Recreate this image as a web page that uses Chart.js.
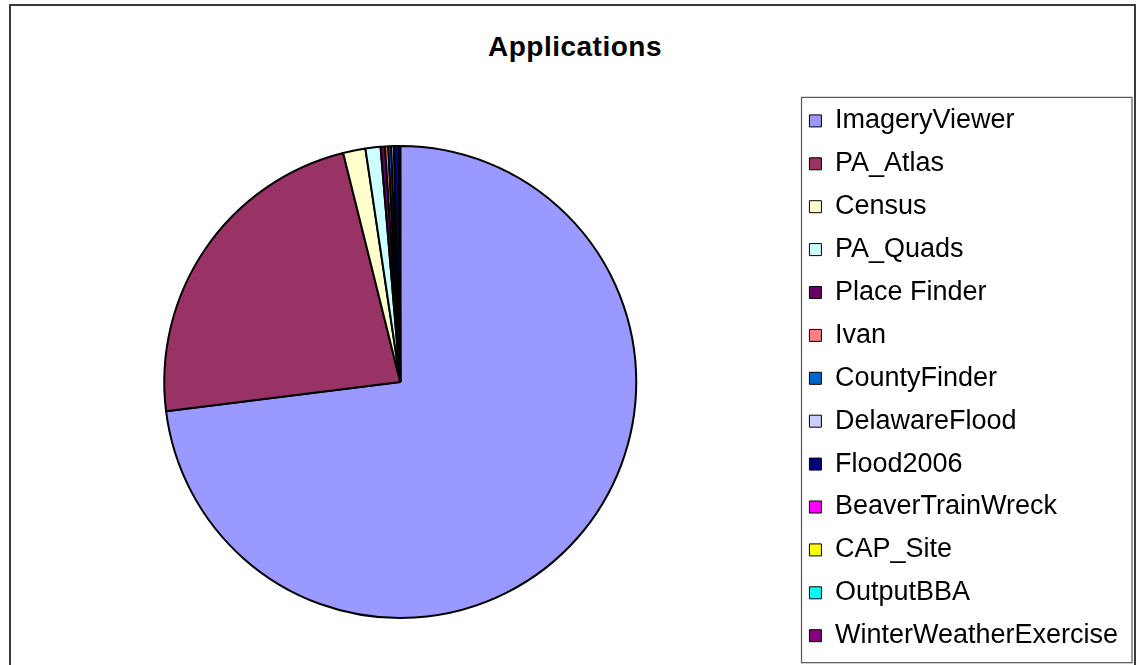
<!DOCTYPE html>
<html>
<head>
<meta charset="utf-8">
<script src="https://cdn.jsdelivr.net/npm/chart.js@4"></script>
<style>
  html, body { margin: 0; padding: 0; background: #fff; overflow: hidden; width: 1144px; height: 665px; }
  #frame { position: absolute; left: 9px; top: 4px; width: 1127px; height: 720px; border: 2px solid #3a3a3a; box-sizing: border-box; }
  #title { position: absolute; left: 0; top: 33px; width: 1150px; text-align: center;
           font: bold 28px "Liberation Sans", Arial, sans-serif; line-height: 28px; letter-spacing: 0.5px; color: #000; }
  #appChart { position: absolute; left: 0; top: 0; }
</style>
</head>
<body>
<div id="frame"></div>
<div id="title">Applications</div>
<canvas id="appChart" width="1144" height="720"></canvas>
<script>
// share of hits per application (percent)
const apps = ['ImageryViewer', 'PA_Atlas', 'Census', 'PA_Quads', 'Place Finder', 'Ivan',
    'CountyFinder', 'DelawareFlood', 'Flood2006', 'BeaverTrainWreck', 'CAP_Site',
    'OutputBBA', 'WinterWeatherExercise'];
const shares = [73.03, 23.08, 1.53, 1.03, 0.30, 0.22, 0.20, 0.18, 0.35, 0.03, 0.02, 0.02, 0.01];
const colors = ['#9999FF', '#993366', '#FFFFCC', '#CCFFFF', '#660066', '#FF8080',
    '#0066CC', '#CCCCFF', '#000080', '#FF00FF', '#FFFF00', '#00FFFF', '#800080'];

// draws the box round the legend, like the Excel one
const legendFrame = {
    id: 'legendFrame',
    afterDraw(chart) {
        const lg = chart.legend;
        if (!lg || !lg.legendHitBoxes.length) return;
        const first = lg.legendHitBoxes[0];
        const last = lg.legendHitBoxes[lg.legendHitBoxes.length - 1];
        const ctx = chart.ctx;
        ctx.save();
        ctx.strokeStyle = '#555';
        ctx.lineWidth = 1.2;
        ctx.strokeRect(lg.left + 8, first.top - 10, 330.5, last.top + last.height + 13.5 - (first.top - 10));
        ctx.restore();
    }
};

const ctx = document.getElementById('appChart').getContext('2d');
new Chart(ctx, {
    type: 'pie',
    data: {
        labels: apps,
        datasets: [{
            data: shares,
            backgroundColor: colors,
            borderColor: '#000',
            borderWidth: 2,
            radius: 236
        }]
    },
    options: {
        responsive: false,
        animation: false,
        events: [],
        layout: { padding: { left: 7, right: 16, top: 91.5, bottom: 47.5 } },
        plugins: {
            title: { display: false },
            tooltip: { enabled: false },
            legend: {
                position: 'right',
                align: 'start',
                labels: {
                    color: '#000',
                    font: { family: 'Liberation Sans', size: 27 },
                    boxWidth: 12,
                    boxHeight: 12,
                    padding: 15.9,
                    generateLabels(chart) {
                        const base = Chart.overrides.pie.plugins.legend.labels.generateLabels(chart);
                        return base.map(item => ({ ...item, lineWidth: 1, strokeStyle: '#000' }));
                    }
                }
            }
        }
    },
    plugins: [legendFrame]
});
</script>
</body>
</html>
